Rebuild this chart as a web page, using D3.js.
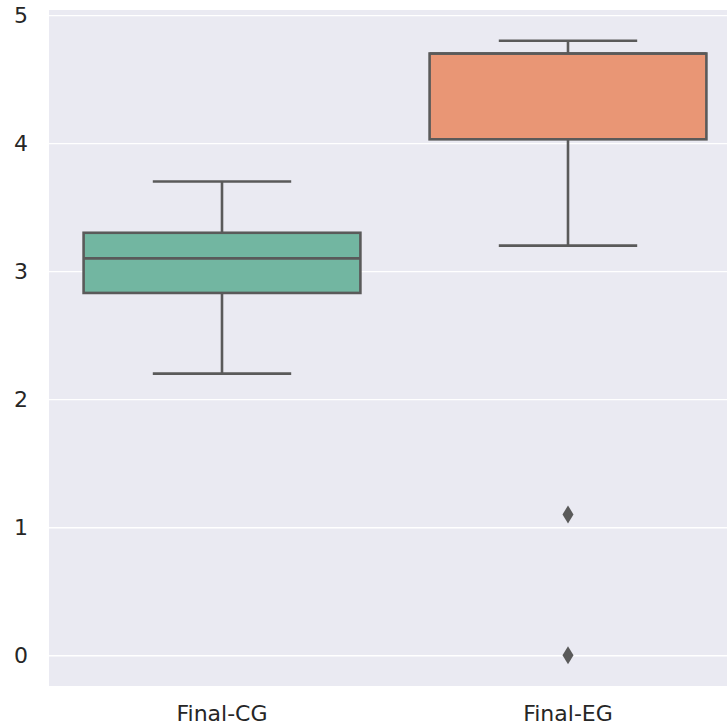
<!DOCTYPE html>
<html>
<head>
<meta charset="utf-8">
<script src="https://cdn.jsdelivr.net/npm/d3@7"></script>
<style>
  body { margin: 0; background: #fff; }
  text { font-family: "DejaVu Sans", sans-serif; fill: #262626; }
</style>
</head>
<body>
<div id="chart"></div>
<script>
// Box plot stats
const groups = ["Final-CG", "Final-EG"];
const whiskerLow = [2.2, 3.2];
const q1 = [2.83, 4.03];
const median = [3.1, 4.7];
const q3 = [3.3, 4.7];
const whiskerHigh = [3.7, 4.8];
const outliers = [[], [1.1, 0]];
const yTicks = [0, 1, 2, 3, 4, 5];
const fills = ["#72b6a1", "#e99675"];

const W = 727, H = 727;
const lineColor = "#5a5a5a";

const svg = d3.select("#chart").append("svg")
    .attr("width", W)
    .attr("height", H);

// Axes area (right side runs past the window, as in the reference)
const x = d3.scaleBand()
    .domain(groups)
    .range([49, 741]);

const y = d3.scaleLinear()
    .domain([-0.24, 5.04])
    .range([686, 10]);

svg.append("rect")
    .attr("x", x.range()[0])
    .attr("y", y.range()[1])
    .attr("width", x.range()[1] - x.range()[0])
    .attr("height", y.range()[0] - y.range()[1])
    .attr("fill", "#eaeaf2");

// Horizontal grid
svg.append("g")
    .attr("transform", `translate(${x.range()[0]},0)`)
    .call(d3.axisRight(y).tickValues(yTicks).tickSize(x.range()[1] - x.range()[0]).tickFormat(""))
    .call(g => g.select(".domain").remove())
    .call(g => g.selectAll("line").attr("stroke", "#fff").attr("stroke-width", 1.3));

// Y tick labels
svg.append("g")
    .attr("transform", `translate(${x.range()[0]},0)`)
    .call(d3.axisLeft(y).tickValues(yTicks).tickSize(0).tickPadding(21).tickFormat(d3.format("d")))
    .call(g => g.select(".domain").remove())
    .call(g => g.selectAll("text").attr("font-size", "22px").attr("fill", "#262626")
        .style("font-family", "DejaVu Sans, sans-serif"));

// X tick labels
svg.append("g")
    .attr("transform", `translate(0,${y.range()[0]})`)
    .call(d3.axisBottom(x).tickSize(0).tickPadding(19))
    .call(g => g.select(".domain").remove())
    .call(g => g.selectAll("text").attr("font-size", "22px").attr("fill", "#262626")
        .style("font-family", "DejaVu Sans, sans-serif"));

const boxW = x.bandwidth() * 0.8;
const capW = boxW / 2;

const boxes = svg.append("g").selectAll("g")
    .data(groups)
    .join("g")
    .attr("transform", d => `translate(${x(d) + x.bandwidth() / 2},0)`);

boxes.each(function (d, i) {
    const g = d3.select(this);
    const common = s => s.attr("stroke", lineColor).attr("stroke-width", 2.6);

    // whiskers
    g.append("line").attr("x1", 0).attr("x2", 0)
        .attr("y1", y(whiskerLow[i])).attr("y2", y(q1[i])).call(common);
    g.append("line").attr("x1", 0).attr("x2", 0)
        .attr("y1", y(q3[i])).attr("y2", y(whiskerHigh[i])).call(common);
    // caps
    [whiskerLow[i], whiskerHigh[i]].forEach(v => {
        g.append("line").attr("x1", -capW / 2).attr("x2", capW / 2)
            .attr("y1", y(v)).attr("y2", y(v)).call(common);
    });
    // box
    g.append("rect")
        .attr("x", -boxW / 2)
        .attr("width", boxW)
        .attr("y", y(q3[i]))
        .attr("height", y(q1[i]) - y(q3[i]))
        .attr("fill", fills[i])
        .call(common);
    // median
    g.append("line").attr("x1", -boxW / 2).attr("x2", boxW / 2)
        .attr("y1", y(median[i])).attr("y2", y(median[i])).call(common);
    // outliers
    g.selectAll(".flier")
        .data(outliers[i])
        .join("path")
        .attr("class", "flier")
        .attr("d", "M0,-9L5.5,0L0,9L-5.5,0Z")
        .attr("transform", v => `translate(0,${y(v)})`)
        .attr("fill", lineColor);
});
</script>
</body>
</html>
